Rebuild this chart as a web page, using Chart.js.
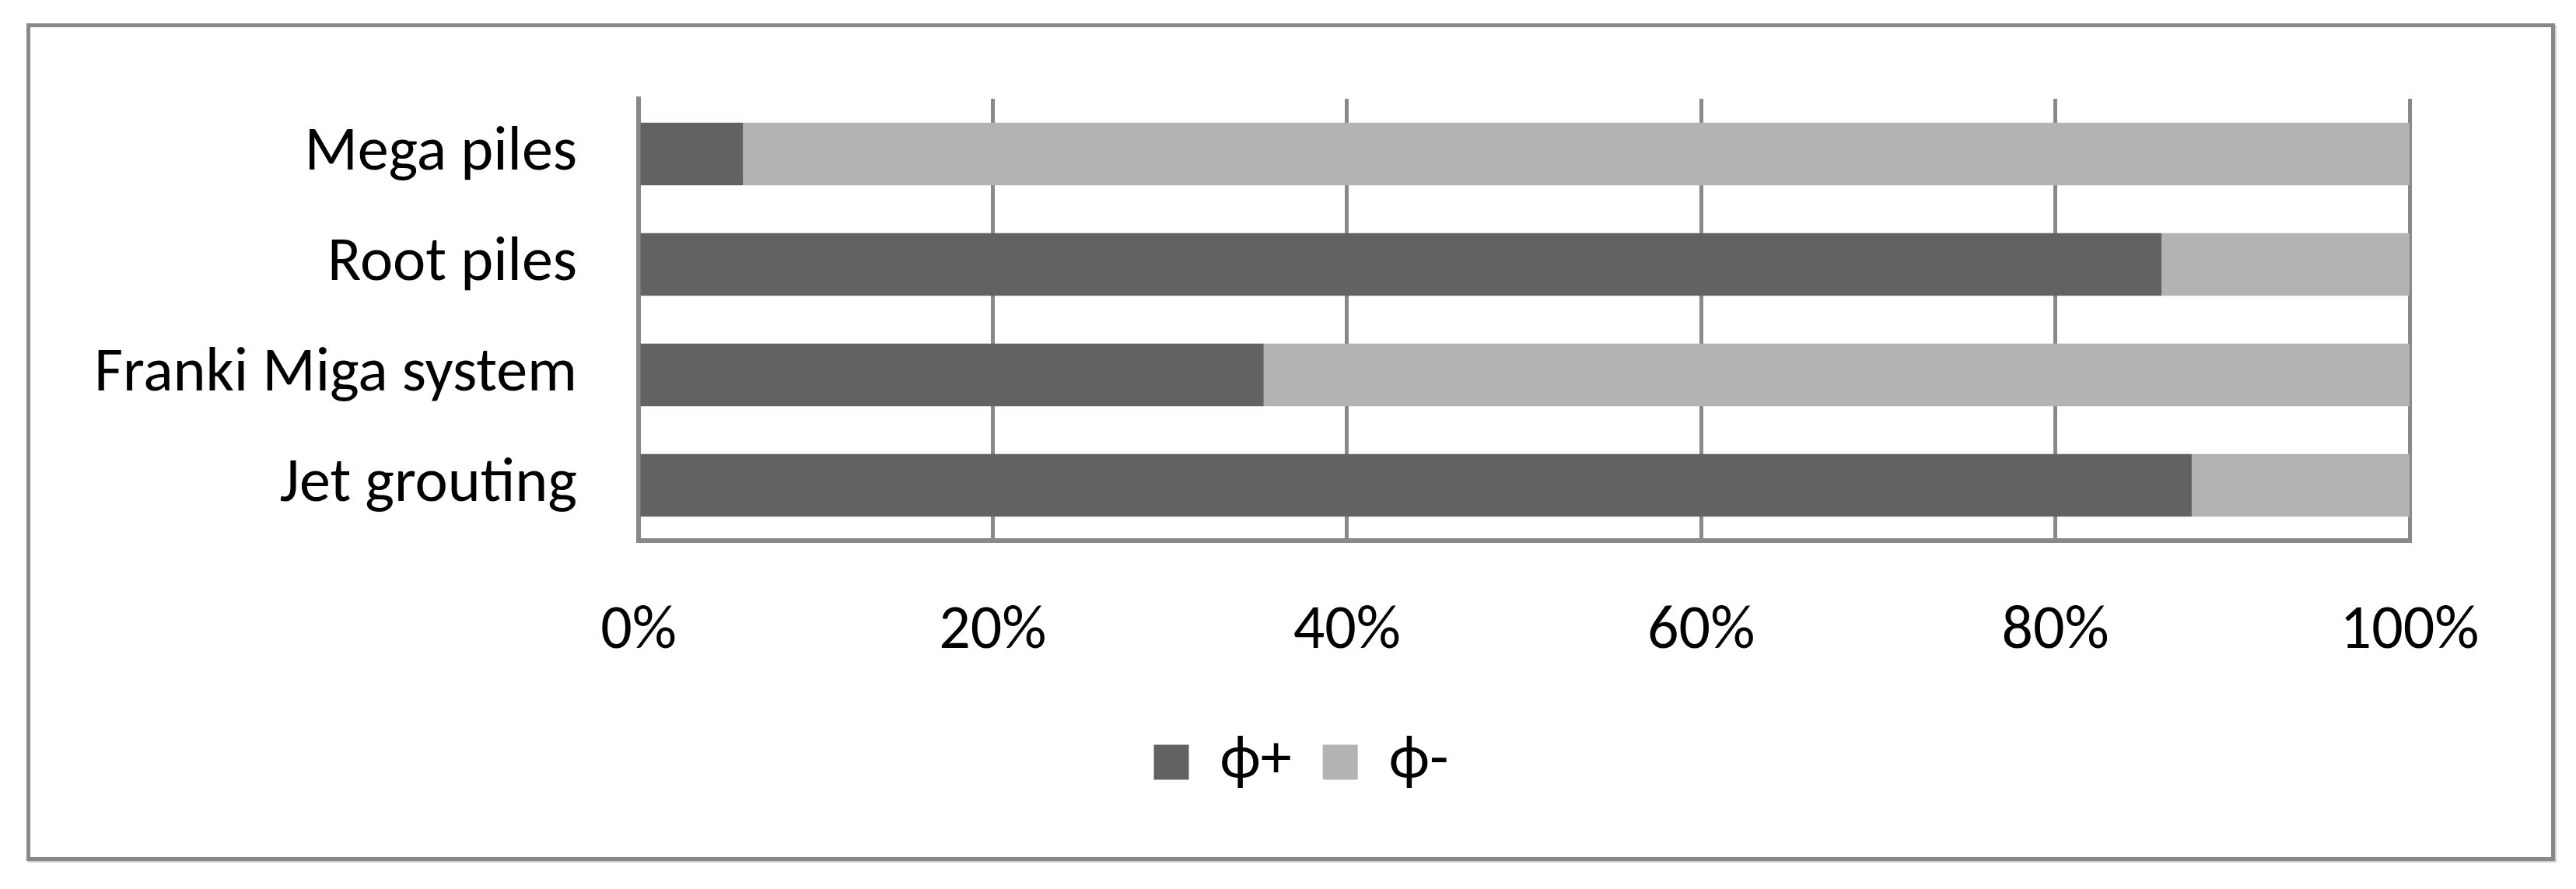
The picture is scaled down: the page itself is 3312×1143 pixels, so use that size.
<!DOCTYPE html>
<html>
<head>
<meta charset="utf-8">
<script src="https://cdn.jsdelivr.net/npm/chart.js@4.4.1/dist/chart.umd.min.js"></script>
<style>
  html, body { margin: 0; padding: 0; background: #fff; }
  #wrap { position: relative; width: 3312px; height: 1143px; }
  #frame {
    position: absolute; left: 34px; top: 30px; width: 3241px; height: 1067px;
    border: 5px solid #898989; box-shadow: 2px 2px 0 #d0d0d0;
  }
  canvas { position: absolute; left: 0; top: 0; }
</style>
</head>
<body>
<div id="wrap">
  <div id="frame"></div>
  <canvas id="chart" width="3312" height="1143"></canvas>
</div>
<script>
// categories, top to bottom
const categories = ['Mega piles', 'Root piles', 'Franki Miga system', 'Jet grouting'];
// share of each answer, in %
const phiPlus  = [5.9, 86.0, 35.3, 87.7];
const phiMinus = [94.1, 14.0, 64.7, 12.3];
const xTicks = [0, 20, 40, 60, 80, 100];

const FONT = "Carlito, Calibri, Lato, 'Open Sans', sans-serif";
const axisGrey = '#898989';

// the legend sits centred under the whole frame, not under the plot box
const legendShift = {
    id: 'legendShift',
    afterLayout(chart) {
        const lg = chart.legend;
        if (!lg) return;
        lg.left += 124;
        lg.right += 124;
    }
};

const ctx = document.getElementById('chart').getContext('2d');
new Chart(ctx, {
    type: 'bar',
    data: {
        labels: categories,
        datasets: [
            { label: 'ϕ+', data: phiPlus, backgroundColor: '#626262' },
            { label: 'ϕ-', data: phiMinus, backgroundColor: '#b3b3b3' }
        ]
    },
    options: {
        indexAxis: 'y',
        responsive: false,
        animation: false,
        devicePixelRatio: 1,
        layout: { padding: { left: 0, right: 214, top: 124, bottom: 113 } },
        datasets: { bar: { categoryPercentage: 1, barPercentage: 0.567, borderWidth: 0 } },
        plugins: {
            legend: {
                position: 'bottom',
                labels: {
                    boxWidth: 45, boxHeight: 45, padding: 40,
                    color: '#000', font: { family: FONT, size: 80 }
                }
            },
            tooltip: { enabled: false }
        },
        scales: {
            x: {
                stacked: true, min: 0, max: 100,
                afterBuildTicks: axis => { axis.ticks = xTicks.map(v => ({ value: v })); },
                afterFit: axis => { axis.height = 205; },
                grid: { color: axisGrey, lineWidth: 5, drawTicks: false },
                border: { color: axisGrey, width: 6 },
                ticks: {
                    padding: 70, color: '#000',
                    font: { family: FONT, size: 80 },
                    callback: v => v + '%'
                }
            },
            y: {
                stacked: true,
                afterFit: axis => { axis.width = 821; },
                grid: { display: false, drawTicks: false },
                border: { color: axisGrey, width: 6 },
                ticks: {
                    padding: 79, color: '#000',
                    font: { family: FONT, size: 80 }
                }
            }
        }
    },
    plugins: [legendShift]
});
</script>
</body>
</html>
